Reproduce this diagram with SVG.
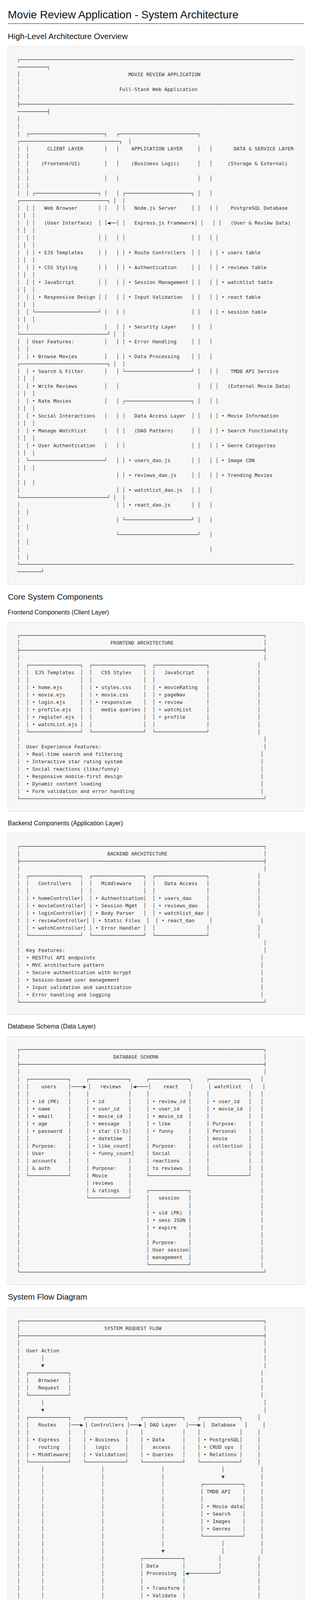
<svg xmlns="http://www.w3.org/2000/svg" width="800" height="5452" viewBox="0 0 800 5452" xml:space="preserve">
<style>
.h1{font-family:"Liberation Sans",Arial,sans-serif;font-size:28px;fill:#111}
.h2{font-family:"Liberation Sans",Arial,sans-serif;font-size:20.8px;fill:#111}
.h3{font-family:"Liberation Sans",Arial,sans-serif;font-size:16px;fill:#111}
.ft{font-family:"Liberation Sans",Arial,sans-serif;font-size:14px;fill:#222}
.panel{fill:#f7f7f7;stroke:#d8d8d8;stroke-width:1}
.m text{font-family:"DejaVu Sans Mono","Liberation Mono",monospace;font-size:12.8px;fill:#333;white-space:pre}
</style>
<rect x="0" y="0" width="800" height="5452" fill="#ffffff"/>
<g id="header">
<text class="h1" x="20" y="46.7">Movie Review Application - System Architecture</text>
<line x1="20" y1="60.5" x2="780" y2="60.5" stroke="#222" stroke-width="1"/>
<text class="h2" x="20" y="100">High-Level Architecture Overview</text>
</g>
<g id="overview" class="m">
<rect class="panel" x="20" y="119.3" width="760" height="1376.7" rx="3"/>
<text x="44" y="156.6" textLength="709.04" lengthAdjust="spacingAndGlyphs">┌───────────────────────────────────────────────────────────────────────────────────────────</text>
<text x="44" y="175.6" textLength="84.78" lengthAdjust="spacingAndGlyphs">──────────┐</text>
<text x="44" y="194.6">│<tspan x="329.16">MOVIE REVIEW APPLICATION</tspan></text>
<text x="44" y="213.6">│</text>
<text x="44" y="232.6">│<tspan x="306.04">Full-Stack Web Application</tspan></text>
<text x="44" y="251.6">│</text>
<text x="44" y="270.6" textLength="709.04" lengthAdjust="spacingAndGlyphs">├───────────────────────────────────────────────────────────────────────────────────────────</text>
<text x="44" y="289.6" textLength="84.78" lengthAdjust="spacingAndGlyphs">──────────┤</text>
<text x="44" y="308.6">│</text>
<text x="44" y="327.6">│</text>
<text x="44" y="346.6" textLength="470.13" lengthAdjust="spacingAndGlyphs">│  ┌─────────────────────────┐   ┌──────────────────────────┐</text>
<text x="44" y="365.6" textLength="292.87" lengthAdjust="spacingAndGlyphs">┌─────────────────────────────────┐  │</text>
<text x="44" y="384.6">│  │<tspan x="121.07">CLIENT LAYER</tspan><tspan x="267.5">│   │</tspan><tspan x="336.87">APPLICATION LAYER</tspan><tspan x="506.42">│   │</tspan><tspan x="598.9">DATA &amp; SERVICE LAYER</tspan></text>
<text x="44" y="403.6">│  │</text>
<text x="44" y="422.6">│  │<tspan x="105.66">(Frontend/UI)</tspan><tspan x="267.5">│   │</tspan><tspan x="336.87">(Business Logic)</tspan><tspan x="506.42">│   │</tspan><tspan x="583.49">(Storage &amp; External)</tspan></text>
<text x="44" y="441.6">│  │</text>
<text x="44" y="460.6">│  │<tspan x="267.5">│   │</tspan><tspan x="506.42">│   │</tspan></text>
<text x="44" y="479.6">│  │</text>
<text x="44" y="498.6" textLength="500.96" lengthAdjust="spacingAndGlyphs">│  │ ┌─────────────────────┐ │   │ ┌──────────────────────┐ │   │</text>
<text x="44" y="517.6" textLength="277.45" lengthAdjust="spacingAndGlyphs">┌─────────────────────────────┐ │  │</text>
<text x="44" y="536.6">│  │ │<tspan x="113.36">Web Browser</tspan><tspan x="252.09">│ │   │ │</tspan><tspan x="344.57">Node.js Server</tspan><tspan x="491.01">│ │   │ │</tspan><tspan x="591.2">PostgreSQL Database</tspan></text>
<text x="44" y="555.6">│ │  │</text>
<text x="44" y="574.6">│  │ │<tspan x="113.36">(User Interface)</tspan><tspan x="252.09">│ │</tspan><tspan x="275.21">◀</tspan><tspan x="282.92">──</tspan><tspan x="298.33">│ │</tspan><tspan x="344.57">Express.js Framework</tspan><tspan x="498.71">│ │   │ │</tspan><tspan x="591.2">(User &amp; Review Data)</tspan></text>
<text x="44" y="593.6">│ │  │</text>
<text x="44" y="612.6">│  │ │<tspan x="252.09">│ │   │ │</tspan><tspan x="491.01">│ │   │ │</tspan></text>
<text x="44" y="631.6">│ │  │</text>
<text x="44" y="650.6">│  │ │ • EJS Templates<tspan x="252.09">│ │   │ │ • Route Controllers</tspan><tspan x="491.01">│ │   │ │ • users table</tspan></text>
<text x="44" y="669.6">│ │  │</text>
<text x="44" y="688.6">│  │ │ • CSS Styling<tspan x="252.09">│ │   │ │ • Authentication</tspan><tspan x="491.01">│ │   │ │ • reviews table</tspan></text>
<text x="44" y="707.6">│ │  │</text>
<text x="44" y="726.6">│  │ │ • JavaScript<tspan x="252.09">│ │   │ │ • Session Management</tspan><tspan x="491.01">│ │   │ │ • watchlist table</tspan></text>
<text x="44" y="745.6">│ │  │</text>
<text x="44" y="764.6">│  │ │ • Responsive Design<tspan x="252.09">│ │   │ │ • Input Validation</tspan><tspan x="491.01">│ │   │ │ • react table</tspan></text>
<text x="44" y="783.6">│ │  │</text>
<text x="44" y="802.6" textLength="277.45" lengthAdjust="spacingAndGlyphs">│  │ └─────────────────────┘ │   │ │</text>
<text x="491.01" y="802.6">│ │   │ │ • session table</text>
<text x="44" y="821.6">│ │  │</text>
<text x="44" y="840.6">│  │<tspan x="267.5">│   │ │ • Security Layer</tspan><tspan x="491.01">│ │   │</tspan></text>
<text x="44" y="859.6" textLength="277.45" lengthAdjust="spacingAndGlyphs">└─────────────────────────────┘ │  │</text>
<text x="44" y="878.6">│  │ User Features:<tspan x="267.5">│   │ │ • Error Handling</tspan><tspan x="491.01">│ │   │</tspan></text>
<text x="44" y="897.6">│  │</text>
<text x="44" y="916.6">│  │ • Browse Movies<tspan x="267.5">│   │ │ • Data Processing</tspan><tspan x="491.01">│ │   │</tspan></text>
<text x="44" y="935.6" textLength="277.45" lengthAdjust="spacingAndGlyphs">┌─────────────────────────────┐ │  │</text>
<text x="44" y="954.6">│  │ • Search &amp; Filter<tspan x="591.2">TMDB API Service</tspan></text>
<text x="267.5" y="954.6" textLength="292.87" lengthAdjust="spacingAndGlyphs">│   │ └──────────────────────┘ │   │ │</text>
<text x="44" y="973.6">│ │  │</text>
<text x="44" y="992.6">│  │ • Write Reviews<tspan x="267.5">│   │</tspan><tspan x="506.42">│   │ │</tspan><tspan x="583.49">(External Movie Data)</tspan></text>
<text x="44" y="1011.6">│ │  │</text>
<text x="44" y="1030.6">│  │ • Rate Movies</text>
<text x="267.5" y="1030.6" textLength="292.87" lengthAdjust="spacingAndGlyphs">│   │ ┌──────────────────────┐ │   │ │</text>
<text x="44" y="1049.6">│ │  │</text>
<text x="44" y="1068.6">│  │ • Social Interactions<tspan x="267.5">│   │ │</tspan><tspan x="344.57">Data Access Layer</tspan><tspan x="491.01">│ │   │ │ • Movie Information</tspan></text>
<text x="44" y="1087.6">│ │  │</text>
<text x="44" y="1106.6">│  │ • Manage Watchlist<tspan x="267.5">│   │ │</tspan><tspan x="344.57">(DAO Pattern)</tspan><tspan x="491.01">│ │   │ │ • Search Functionality</tspan></text>
<text x="44" y="1125.6">│ │  │</text>
<text x="44" y="1144.6">│  │ • User Authentication<tspan x="267.5">│   │ │</tspan><tspan x="491.01">│ │   │ │ • Genre Categories</tspan></text>
<text x="44" y="1163.6">│ │  │</text>
<text x="44" y="1182.6" textLength="231.21" lengthAdjust="spacingAndGlyphs">│  └─────────────────────────┘</text>
<text x="298.33" y="1182.6">│ │ • users_dao.js<tspan x="491.01">│ │   │ │ • Image CDN</tspan></text>
<text x="44" y="1201.6">│ │  │</text>
<text x="44" y="1220.6">│<tspan x="298.33">│ │ • reviews_dao.js</tspan><tspan x="491.01">│ │   │ │ • Trending Movies</tspan></text>
<text x="44" y="1239.6">│ │  │</text>
<text x="44" y="1258.6">│<tspan x="298.33">│ │ • watchlist_dao.js</tspan><tspan x="491.01">│ │   │</tspan></text>
<text x="44" y="1277.6" textLength="277.45" lengthAdjust="spacingAndGlyphs">└─────────────────────────────┘ │  │</text>
<text x="44" y="1296.6">│<tspan x="298.33">│ │ • react_dao.js</tspan><tspan x="491.01">│ │   │</tspan></text>
<text x="44" y="1315.6">│  │</text>
<text x="44" y="1334.6">│</text>
<text x="298.33" y="1334.6" textLength="246.62" lengthAdjust="spacingAndGlyphs">│ └──────────────────────┘ │   │</text>
<text x="44" y="1353.6">│  │</text>
<text x="44" y="1372.6">│</text>
<text x="298.33" y="1372.6" textLength="246.62" lengthAdjust="spacingAndGlyphs">└──────────────────────────┘   │</text>
<text x="44" y="1391.6">│  │</text>
<text x="44" y="1410.6">│<tspan x="537.25">│</tspan></text>
<text x="44" y="1429.6">│  │</text>
<text x="44" y="1448.6" textLength="709.04" lengthAdjust="spacingAndGlyphs">└───────────────────────────────────────────────────────────────────────────────────────────</text>
<text x="44" y="1467.6" textLength="69.36" lengthAdjust="spacingAndGlyphs">────────┘</text>
</g>
<g id="core-headings">
<text class="h2" x="20" y="1535">Core System Components</text>
<text class="h3" x="20" y="1573">Frontend Components (Client Layer)</text>
</g>
<g id="frontend" class="m">
<rect class="panel" x="20" y="1593.3" width="760" height="484" rx="3"/>
<text x="44" y="1630.6" textLength="639.68" lengthAdjust="spacingAndGlyphs">┌─────────────────────────────────────────────────────────────────────────────────┐</text>
<text x="44" y="1649.6">│<tspan x="282.92">FRONTEND ARCHITECTURE</tspan><tspan x="675.97">│</tspan></text>
<text x="44" y="1668.6" textLength="639.68" lengthAdjust="spacingAndGlyphs">├─────────────────────────────────────────────────────────────────────────────────┤</text>
<text x="44" y="1687.6">│<tspan x="675.97">│</tspan></text>
<text x="44" y="1706.6" textLength="493.25" lengthAdjust="spacingAndGlyphs">│  ┌─────────────────┐  ┌─────────────────┐  ┌─────────────────┐</text>
<text x="660.56" y="1706.6">│</text>
<text x="44" y="1725.6">│  │<tspan x="90.24">EJS Templates</tspan><tspan x="205.85">│  │</tspan><tspan x="259.8">CSS Styles</tspan><tspan x="367.69">│  │</tspan><tspan x="421.64">JavaScript</tspan><tspan x="529.54">│</tspan><tspan x="660.56">│</tspan></text>
<text x="44" y="1744.6">│  │<tspan x="205.85">│  │</tspan><tspan x="367.69">│  │</tspan><tspan x="529.54">│</tspan><tspan x="660.56">│</tspan></text>
<text x="44" y="1763.6">│  │ • home.ejs<tspan x="205.85">│  │ • styles.css</tspan><tspan x="367.69">│  │ • movieRating</tspan><tspan x="529.54">│</tspan><tspan x="660.56">│</tspan></text>
<text x="44" y="1782.6">│  │ • movie.ejs<tspan x="205.85">│  │ • movie.css</tspan><tspan x="367.69">│  │ • pageNav</tspan><tspan x="529.54">│</tspan><tspan x="660.56">│</tspan></text>
<text x="44" y="1801.6">│  │ • login.ejs<tspan x="205.85">│  │ • responsive</tspan><tspan x="367.69">│  │ • review</tspan><tspan x="529.54">│</tspan><tspan x="660.56">│</tspan></text>
<text x="44" y="1820.6">│  │ • profile.ejs<tspan x="205.85">│  │</tspan><tspan x="259.8">media queries</tspan><tspan x="367.69">│  │ • watchList</tspan><tspan x="529.54">│</tspan><tspan x="660.56">│</tspan></text>
<text x="44" y="1839.6">│  │ • register.ejs<tspan x="205.85">│  │</tspan><tspan x="367.69">│  │ • profile</tspan><tspan x="529.54">│</tspan><tspan x="660.56">│</tspan></text>
<text x="44" y="1858.6">│  │ • watchList.ejs<tspan x="205.85">│  │</tspan><tspan x="367.69">│  │</tspan><tspan x="529.54">│</tspan><tspan x="660.56">│</tspan></text>
<text x="44" y="1877.6" textLength="493.25" lengthAdjust="spacingAndGlyphs">│  └─────────────────┘  └─────────────────┘  └─────────────────┘</text>
<text x="660.56" y="1877.6">│</text>
<text x="44" y="1896.6">│<tspan x="675.97">│</tspan></text>
<text x="44" y="1915.6">│  User Experience Features:<tspan x="675.97">│</tspan></text>
<text x="44" y="1934.6">│  • Real-time search and filtering<tspan x="668.27">│</tspan></text>
<text x="44" y="1953.6">│  • Interactive star rating system<tspan x="668.27">│</tspan></text>
<text x="44" y="1972.6">│  • Social reactions (like/funny)<tspan x="668.27">│</tspan></text>
<text x="44" y="1991.6">│  • Responsive mobile-first design<tspan x="668.27">│</tspan></text>
<text x="44" y="2010.6">│  • Dynamic content loading<tspan x="668.27">│</tspan></text>
<text x="44" y="2029.6">│  • Form validation and error handling<tspan x="668.27">│</tspan></text>
<text x="44" y="2048.6" textLength="639.68" lengthAdjust="spacingAndGlyphs">└─────────────────────────────────────────────────────────────────────────────────┘</text>
</g>
<text class="h3" x="20" y="2113">Backend Components (Application Layer)</text>
<g id="backend" class="m">
<rect class="panel" x="20" y="2132.7" width="760" height="464.6" rx="3"/>
<text x="44" y="2170.6" textLength="639.68" lengthAdjust="spacingAndGlyphs">┌─────────────────────────────────────────────────────────────────────────────────┐</text>
<text x="44" y="2189.6">│<tspan x="275.21">BACKEND ARCHITECTURE</tspan><tspan x="675.97">│</tspan></text>
<text x="44" y="2208.6" textLength="639.68" lengthAdjust="spacingAndGlyphs">├─────────────────────────────────────────────────────────────────────────────────┤</text>
<text x="44" y="2227.6">│<tspan x="675.97">│</tspan></text>
<text x="44" y="2246.6" textLength="493.25" lengthAdjust="spacingAndGlyphs">│  ┌─────────────────┐  ┌─────────────────┐  ┌─────────────────┐</text>
<text x="660.56" y="2246.6">│</text>
<text x="44" y="2265.6">│  │<tspan x="97.95">Controllers</tspan><tspan x="205.85">│  │</tspan><tspan x="259.8">Middleware</tspan><tspan x="367.69">│  │</tspan><tspan x="421.64">Data Access</tspan><tspan x="529.54">│</tspan><tspan x="660.56">│</tspan></text>
<text x="44" y="2284.6">│  │<tspan x="205.85">│  │</tspan><tspan x="367.69">│  │</tspan><tspan x="529.54">│</tspan><tspan x="660.56">│</tspan></text>
<text x="44" y="2303.6">│  │ • homeController│  │ • Authentication│  │ • users_dao<tspan x="529.54">│</tspan><tspan x="660.56">│</tspan></text>
<text x="44" y="2322.6">│  │ • movieController│ │ • Session Mgmt<tspan x="367.69">│  │ • reviews_dao</tspan><tspan x="529.54">│</tspan><tspan x="660.56">│</tspan></text>
<text x="44" y="2341.6">│  │ • loginController│ │ • Body Parser<tspan x="367.69">│  │ • watchlist_dao</tspan><tspan x="529.54">│</tspan><tspan x="660.56">│</tspan></text>
<text x="44" y="2360.6">│  │ • reviewController│ │ • Static Files<tspan x="375.4">│  │ • react_dao</tspan><tspan x="537.25">│</tspan><tspan x="668.27">│</tspan></text>
<text x="44" y="2379.6">│  │ • watchController│ │ • Error Handler<tspan x="367.69">│  │</tspan><tspan x="529.54">│</tspan><tspan x="660.56">│</tspan></text>
<text x="44" y="2398.6" textLength="493.25" lengthAdjust="spacingAndGlyphs">│  └─────────────────┘  └─────────────────┘  └─────────────────┘</text>
<text x="660.56" y="2398.6">│</text>
<text x="44" y="2417.6">│<tspan x="675.97">│</tspan></text>
<text x="44" y="2436.6">│  Key Features:<tspan x="675.97">│</tspan></text>
<text x="44" y="2455.6">│  • RESTful API endpoints<tspan x="668.27">│</tspan></text>
<text x="44" y="2474.6">│  • MVC architecture pattern<tspan x="668.27">│</tspan></text>
<text x="44" y="2493.6">│  • Secure authentication with bcrypt<tspan x="668.27">│</tspan></text>
<text x="44" y="2512.6">│  • Session-based user management<tspan x="668.27">│</tspan></text>
<text x="44" y="2531.6">│  • Input validation and sanitization<tspan x="668.27">│</tspan></text>
<text x="44" y="2550.6">│  • Error handling and logging<tspan x="668.27">│</tspan></text>
<text x="44" y="2569.6" textLength="639.68" lengthAdjust="spacingAndGlyphs">└─────────────────────────────────────────────────────────────────────────────────┘</text>
</g>
<text class="h3" x="20" y="2633">Database Schema (Data Layer)</text>
<g id="database" class="m">
<rect class="panel" x="20" y="2653.3" width="760" height="635.7" rx="3"/>
<text x="44" y="2690.6" textLength="639.68" lengthAdjust="spacingAndGlyphs">┌─────────────────────────────────────────────────────────────────────────────────┐</text>
<text x="44" y="2709.6">│<tspan x="290.62">DATABASE SCHEMA</tspan><tspan x="675.97">│</tspan></text>
<text x="44" y="2728.6" textLength="639.68" lengthAdjust="spacingAndGlyphs">├─────────────────────────────────────────────────────────────────────────────────┤</text>
<text x="44" y="2747.6">│<tspan x="675.97">│</tspan></text>
<text x="44" y="2766.6" textLength="138.73" lengthAdjust="spacingAndGlyphs">│  ┌─────────────┐</text>
<text x="221.26" y="2766.6" textLength="115.61" lengthAdjust="spacingAndGlyphs">┌─────────────┐</text>
<text x="375.4" y="2766.6" textLength="115.61" lengthAdjust="spacingAndGlyphs">┌─────────────┐</text>
<text x="529.54" y="2766.6" textLength="115.61" lengthAdjust="spacingAndGlyphs">┌─────────────┐</text>
<text x="668.27" y="2766.6">│</text>
<text x="44" y="2785.6">│  │    users    │────<tspan x="213.55">▶</tspan><tspan x="225.9">│   reviews   │</tspan><tspan x="341.5">◀</tspan><tspan x="349.2">────│    react    │</tspan><tspan x="534.1">│ watchlist   │</tspan><tspan x="672.9">│</tspan></text>
<text x="44" y="2804.6">│  │<tspan x="175.02">│     │</tspan><tspan x="329.16">│     │</tspan><tspan x="483.3">│     │</tspan><tspan x="637.44">│   │</tspan></text>
<text x="44" y="2823.6">│  │<tspan x="82.54">• id (PK)</tspan><tspan x="175.02">│     │</tspan><tspan x="236.68">• id</tspan><tspan x="329.16">│     │</tspan><tspan x="390.82">• review_id</tspan><tspan x="483.3">│     │</tspan><tspan x="544.96">• user_id</tspan><tspan x="637.44">│   │</tspan></text>
<text x="44" y="2842.6">│  │<tspan x="82.54">• name</tspan><tspan x="175.02">│     │</tspan><tspan x="236.68">• user_id</tspan><tspan x="329.16">│     │</tspan><tspan x="390.82">• user_id</tspan><tspan x="483.3">│     │</tspan><tspan x="544.96">• movie_id</tspan><tspan x="637.44">│   │</tspan></text>
<text x="44" y="2861.6">│  │<tspan x="82.54">• email</tspan><tspan x="175.02">│     │</tspan><tspan x="236.68">• movie_id</tspan><tspan x="329.16">│     │</tspan><tspan x="390.82">• movie_id</tspan><tspan x="483.3">│     │</tspan><tspan x="637.44">│   │</tspan></text>
<text x="44" y="2880.6">│  │<tspan x="82.54">• age</tspan><tspan x="175.02">│     │</tspan><tspan x="236.68">• message</tspan><tspan x="329.16">│     │</tspan><tspan x="390.82">• like</tspan><tspan x="483.3">│     │</tspan><tspan x="544.96">Purpose:</tspan><tspan x="637.44">│   │</tspan></text>
<text x="44" y="2899.6">│  │<tspan x="82.54">• password</tspan><tspan x="175.02">│     │</tspan><tspan x="236.68">• star (1-5)</tspan><tspan x="329.16">│     │</tspan><tspan x="390.82">• funny</tspan><tspan x="483.3">│     │</tspan><tspan x="544.96">Personal</tspan><tspan x="637.44">│   │</tspan></text>
<text x="44" y="2918.6">│  │<tspan x="175.02">│     │</tspan><tspan x="236.68">• datetime</tspan><tspan x="329.16">│     │</tspan><tspan x="483.3">│     │</tspan><tspan x="544.96">movie</tspan><tspan x="637.44">│   │</tspan></text>
<text x="44" y="2937.6">│  │<tspan x="82.54">Purpose:</tspan><tspan x="175.02">│     │</tspan><tspan x="236.68">• like_count</tspan><tspan x="329.16">│     │</tspan><tspan x="390.82">Purpose:</tspan><tspan x="483.3">│     │</tspan><tspan x="544.96">collection</tspan><tspan x="637.44">│   │</tspan></text>
<text x="44" y="2956.6">│  │<tspan x="82.54">User</tspan><tspan x="175.02">│     │</tspan><tspan x="236.68">• funny_count</tspan><tspan x="336.87">│</tspan><tspan x="375.4">│</tspan><tspan x="390.82">Social</tspan><tspan x="483.3">│     │</tspan><tspan x="637.44">│   │</tspan></text>
<text x="44" y="2975.6">│  │<tspan x="82.54">accounts</tspan><tspan x="175.02">│     │</tspan><tspan x="329.16">│     │</tspan><tspan x="390.82">reactions</tspan><tspan x="483.3">│     │</tspan><tspan x="637.44">│   │</tspan></text>
<text x="44" y="2994.6">│  │<tspan x="82.54">&amp; auth</tspan><tspan x="175.02">│     │</tspan><tspan x="236.68">Purpose:</tspan><tspan x="329.16">│     │</tspan><tspan x="390.82">to reviews</tspan><tspan x="483.3">│     │</tspan><tspan x="637.44">│   │</tspan></text>
<text x="44" y="3013.6" textLength="184.97" lengthAdjust="spacingAndGlyphs">│  └─────────────┘     │</text>
<text x="236.68" y="3013.6">Movie</text>
<text x="329.16" y="3013.6" textLength="346.82" lengthAdjust="spacingAndGlyphs">│     └─────────────┘     └─────────────┘   │</text>
<text x="44" y="3032.6">│<tspan x="221.26">│</tspan><tspan x="236.68">reviews</tspan><tspan x="329.16">│</tspan><tspan x="668.27">│</tspan></text>
<text x="44" y="3051.6">│<tspan x="221.26">│</tspan><tspan x="236.68">&amp; ratings</tspan><tspan x="668.27">│</tspan></text>
<text x="329.16" y="3051.6" textLength="161.85" lengthAdjust="spacingAndGlyphs">│     ┌─────────────┐</text>
<text x="44" y="3070.6">│<tspan x="406.23">session</tspan><tspan x="483.3">│</tspan><tspan x="668.27">│</tspan></text>
<text x="221.26" y="3070.6" textLength="161.85" lengthAdjust="spacingAndGlyphs">└─────────────┘     │</text>
<text x="44" y="3089.6">│<tspan x="375.4">│</tspan><tspan x="483.3">│</tspan><tspan x="668.27">│</tspan></text>
<text x="44" y="3108.6">│<tspan x="375.4">│ • sid (PK)</tspan><tspan x="483.3">│</tspan><tspan x="668.27">│</tspan></text>
<text x="44" y="3127.6">│<tspan x="375.4">│ • sess JSON</tspan><tspan x="483.3">│</tspan><tspan x="668.27">│</tspan></text>
<text x="44" y="3146.6">│<tspan x="375.4">│ • expire</tspan><tspan x="483.3">│</tspan><tspan x="668.27">│</tspan></text>
<text x="44" y="3165.6">│<tspan x="375.4">│</tspan><tspan x="483.3">│</tspan><tspan x="668.27">│</tspan></text>
<text x="44" y="3184.6">│<tspan x="375.4">│ Purpose:</tspan><tspan x="483.3">│</tspan><tspan x="668.27">│</tspan></text>
<text x="44" y="3203.6">│<tspan x="375.4">│ User session│</tspan><tspan x="668.27">│</tspan></text>
<text x="44" y="3222.6">│<tspan x="375.4">│ management</tspan><tspan x="483.3">│</tspan><tspan x="668.27">│</tspan></text>
<text x="44" y="3241.6">│<tspan x="668.27">│</tspan></text>
<text x="375.4" y="3241.6" textLength="115.61" lengthAdjust="spacingAndGlyphs">└─────────────┘</text>
<text x="44" y="3260.6" textLength="639.68" lengthAdjust="spacingAndGlyphs">└─────────────────────────────────────────────────────────────────────────────────┘</text>
</g>
<text class="h2" x="20" y="3327">System Flow Diagram</text>
<g id="flow" class="m">
<rect class="panel" x="20" y="3347.7" width="760" height="1434" rx="3"/>
<text x="44" y="3385.6" textLength="639.68" lengthAdjust="spacingAndGlyphs">┌─────────────────────────────────────────────────────────────────────────────────┐</text>
<text x="44" y="3404.6">│<tspan x="267.5">SYSTEM REQUEST FLOW</tspan><tspan x="675.97">│</tspan></text>
<text x="44" y="3423.6" textLength="639.68" lengthAdjust="spacingAndGlyphs">├─────────────────────────────────────────────────────────────────────────────────┤</text>
<text x="44" y="3442.6">│<tspan x="675.97">│</tspan></text>
<text x="44" y="3461.6">│  User Action<tspan x="675.97">│</tspan></text>
<text x="44" y="3480.6">│<tspan x="105.66">│</tspan><tspan x="675.97">│</tspan></text>
<text x="44" y="3499.6">│<tspan x="105.66">▼</tspan><tspan x="675.97">│</tspan></text>
<text x="44" y="3518.6" textLength="138.73" lengthAdjust="spacingAndGlyphs">│  ┌─────────────┐</text>
<text x="668.27" y="3518.6">│</text>
<text x="44" y="3537.6">│  │<tspan x="97.95">Browser</tspan><tspan x="175.02">│</tspan><tspan x="668.27">│</tspan></text>
<text x="44" y="3556.6">│  │<tspan x="97.95">Request</tspan><tspan x="175.02">│</tspan><tspan x="668.27">│</tspan></text>
<text x="44" y="3575.6" textLength="138.73" lengthAdjust="spacingAndGlyphs">│  └─────────────┘</text>
<text x="668.27" y="3575.6">│</text>
<text x="44" y="3594.6">│<tspan x="105.66">│</tspan><tspan x="675.97">│</tspan></text>
<text x="44" y="3613.6">│<tspan x="105.66">▼</tspan><tspan x="675.97">│</tspan></text>
<text x="44" y="3632.6" textLength="578.03" lengthAdjust="spacingAndGlyphs">│  ┌─────────────┐    ┌─────────────┐    ┌─────────────┐    ┌─────────────┐</text>
<text x="660.56" y="3632.6">│</text>
<text x="44" y="3651.6">│  │   Routes    │───<tspan x="205.85">▶</tspan><tspan x="217.8">│ Controllers │───</tspan><tspan x="356.5">▶</tspan><tspan x="368.5">│ DAO Layer   │───</tspan><tspan x="507.2">▶</tspan><tspan x="519.5">│  Database   │     │</tspan></text>
<text x="44" y="3670.6">│  │<tspan x="175.02">│    │</tspan><tspan x="321.45">│    │</tspan><tspan x="467.89">│    │</tspan><tspan x="614.32">│</tspan><tspan x="660.56">│</tspan></text>
<text x="44" y="3689.6">│  │ • Express<tspan x="175.02">│    │ • Business</tspan><tspan x="321.45">│    │ • Data</tspan><tspan x="467.89">│    │ • PostgreSQL</tspan><tspan x="614.32">│</tspan><tspan x="660.56">│</tspan></text>
<text x="44" y="3708.6">│  │<tspan x="97.95">routing</tspan><tspan x="175.02">│    │</tspan><tspan x="244.38">logic</tspan><tspan x="321.45">│    │</tspan><tspan x="390.82">access</tspan><tspan x="467.89">│    │ • CRUD ops</tspan><tspan x="614.32">│</tspan><tspan x="660.56">│</tspan></text>
<text x="44" y="3727.6">│  │ • Middleware│    │ • Validation│    │ • Queries<tspan x="467.89">│    │ • Relations</tspan><tspan x="614.32">│</tspan><tspan x="660.56">│</tspan></text>
<text x="44" y="3746.6" textLength="578.03" lengthAdjust="spacingAndGlyphs">│  └─────────────┘    └─────────────┘    └─────────────┘    └─────────────┘</text>
<text x="660.56" y="3746.6">│</text>
<text x="44" y="3765.6">│<tspan x="105.66">│</tspan><tspan x="259.8">│</tspan><tspan x="413.94">│</tspan><tspan x="568.08">│</tspan><tspan x="668.27">│</tspan></text>
<text x="44" y="3784.6">│<tspan x="105.66">│</tspan><tspan x="259.8">│</tspan><tspan x="413.94">│</tspan><tspan x="568.08">▼</tspan><tspan x="668.27">│</tspan></text>
<text x="44" y="3803.6">│<tspan x="105.66">│</tspan><tspan x="259.8">│</tspan><tspan x="413.94">│</tspan><tspan x="668.27">│</tspan></text>
<text x="514.13" y="3803.6" textLength="115.61" lengthAdjust="spacingAndGlyphs">┌─────────────┐</text>
<text x="44" y="3822.6">│<tspan x="105.66">│</tspan><tspan x="259.8">│</tspan><tspan x="413.94">│</tspan><tspan x="514.13">│</tspan><tspan x="529.54">TMDB API</tspan><tspan x="622.03">│</tspan><tspan x="668.27">│</tspan></text>
<text x="44" y="3841.6">│<tspan x="105.66">│</tspan><tspan x="259.8">│</tspan><tspan x="413.94">│</tspan><tspan x="514.13">│</tspan><tspan x="622.03">│</tspan><tspan x="668.27">│</tspan></text>
<text x="44" y="3860.6">│<tspan x="105.66">│</tspan><tspan x="259.8">│</tspan><tspan x="413.94">│</tspan><tspan x="514.13">│ • Movie data│</tspan><tspan x="668.27">│</tspan></text>
<text x="44" y="3879.6">│<tspan x="105.66">│</tspan><tspan x="259.8">│</tspan><tspan x="413.94">│</tspan><tspan x="514.13">│ • Search</tspan><tspan x="622.03">│</tspan><tspan x="668.27">│</tspan></text>
<text x="44" y="3898.6">│<tspan x="105.66">│</tspan><tspan x="259.8">│</tspan><tspan x="413.94">│</tspan><tspan x="514.13">│ • Images</tspan><tspan x="622.03">│</tspan><tspan x="668.27">│</tspan></text>
<text x="44" y="3917.6">│<tspan x="105.66">│</tspan><tspan x="259.8">│</tspan><tspan x="413.94">│</tspan><tspan x="514.13">│ • Genres</tspan><tspan x="622.03">│</tspan><tspan x="668.27">│</tspan></text>
<text x="44" y="3936.6">│<tspan x="105.66">│</tspan><tspan x="259.8">│</tspan><tspan x="413.94">│</tspan><tspan x="668.27">│</tspan></text>
<text x="514.13" y="3936.6" textLength="115.61" lengthAdjust="spacingAndGlyphs">└─────────────┘</text>
<text x="44" y="3955.6">│<tspan x="105.66">│</tspan><tspan x="259.8">│</tspan><tspan x="413.94">│</tspan><tspan x="568.08">│</tspan><tspan x="668.27">│</tspan></text>
<text x="44" y="3974.6">│<tspan x="105.66">│</tspan><tspan x="259.8">│</tspan><tspan x="413.94">▼</tspan><tspan x="568.08">│</tspan><tspan x="668.27">│</tspan></text>
<text x="44" y="3993.6">│<tspan x="105.66">│</tspan><tspan x="259.8">│</tspan><tspan x="560.37">│</tspan><tspan x="660.56">│</tspan></text>
<text x="359.99" y="3993.6" textLength="115.61" lengthAdjust="spacingAndGlyphs">┌─────────────┐</text>
<text x="44" y="4012.6">│<tspan x="105.66">│</tspan><tspan x="259.8">│</tspan><tspan x="359.99">│</tspan><tspan x="375.4">Data</tspan><tspan x="467.89">│</tspan><tspan x="560.37">│</tspan><tspan x="660.56">│</tspan></text>
<text x="44" y="4031.6">│<tspan x="105.66">│</tspan><tspan x="259.8">│</tspan><tspan x="359.99">│</tspan><tspan x="375.4">Processing</tspan><tspan x="467.89">│</tspan><tspan x="475.59">◀</tspan><tspan x="660.56">│</tspan></text>
<text x="483.3" y="4031.6" textLength="84.78" lengthAdjust="spacingAndGlyphs">──────────┘</text>
<text x="44" y="4050.6">│<tspan x="105.66">│</tspan><tspan x="259.8">│</tspan><tspan x="359.99">│</tspan><tspan x="467.89">│</tspan><tspan x="660.56">│</tspan></text>
<text x="44" y="4069.6">│<tspan x="105.66">│</tspan><tspan x="259.8">│</tspan><tspan x="359.99">│ • Transform</tspan><tspan x="467.89">│</tspan><tspan x="660.56">│</tspan></text>
<text x="44" y="4088.6">│<tspan x="105.66">│</tspan><tspan x="259.8">│</tspan><tspan x="359.99">│ • Validate</tspan><tspan x="467.89">│</tspan><tspan x="660.56">│</tspan></text>
<text x="44" y="4107.6">│<tspan x="105.66">│</tspan><tspan x="259.8">│</tspan><tspan x="359.99">│ • Format</tspan><tspan x="467.89">│</tspan><tspan x="660.56">│</tspan></text>
<text x="44" y="4126.6">│<tspan x="105.66">│</tspan><tspan x="259.8">│</tspan><tspan x="660.56">│</tspan></text>
<text x="359.99" y="4126.6" textLength="115.61" lengthAdjust="spacingAndGlyphs">└─────────────┘</text>
<text x="44" y="4145.6">│<tspan x="105.66">│</tspan><tspan x="259.8">│</tspan><tspan x="413.94">│</tspan><tspan x="668.27">│</tspan></text>
<text x="44" y="4164.6">│<tspan x="105.66">│</tspan><tspan x="259.8">▼</tspan><tspan x="413.94">▼</tspan><tspan x="668.27">│</tspan></text>
<text x="44" y="4183.6">│<tspan x="105.66">│</tspan><tspan x="660.56">│</tspan></text>
<text x="205.85" y="4183.6" textLength="262.04" lengthAdjust="spacingAndGlyphs">┌─────────────┐    ┌─────────────┐</text>
<text x="44" y="4202.6">│<tspan x="105.66">│</tspan><tspan x="205.85">│ EJS Template│    │</tspan><tspan x="367.69">JSON/AJAX</tspan><tspan x="460.18">│</tspan><tspan x="660.56">│</tspan></text>
<text x="44" y="4221.6">│<tspan x="105.66">│</tspan><tspan x="205.85">│</tspan><tspan x="221.26">Rendering</tspan><tspan x="313.75">│    │</tspan><tspan x="367.69">Response</tspan><tspan x="460.18">│</tspan><tspan x="660.56">│</tspan></text>
<text x="44" y="4240.6">│<tspan x="105.66">│</tspan><tspan x="205.85">│</tspan><tspan x="313.75">│    │</tspan><tspan x="460.18">│</tspan><tspan x="660.56">│</tspan></text>
<text x="44" y="4259.6">│<tspan x="105.66">│</tspan><tspan x="205.85">│ • HTML gen</tspan><tspan x="313.75">│    │ • API data</tspan><tspan x="460.18">│</tspan><tspan x="660.56">│</tspan></text>
<text x="44" y="4278.6">│<tspan x="105.66">│</tspan><tspan x="205.85">│ • Dynamic</tspan><tspan x="313.75">│    │ • Real-time</tspan><tspan x="460.18">│</tspan><tspan x="660.56">│</tspan></text>
<text x="44" y="4297.6">│<tspan x="105.66">│</tspan><tspan x="205.85">│</tspan><tspan x="236.68">content</tspan><tspan x="313.75">│    │</tspan><tspan x="383.11">updates</tspan><tspan x="460.18">│</tspan><tspan x="660.56">│</tspan></text>
<text x="44" y="4316.6">│<tspan x="105.66">│</tspan><tspan x="660.56">│</tspan></text>
<text x="205.85" y="4316.6" textLength="262.04" lengthAdjust="spacingAndGlyphs">└─────────────┘    └─────────────┘</text>
<text x="44" y="4335.6">│<tspan x="105.66">│</tspan><tspan x="259.8">│</tspan><tspan x="413.94">│</tspan><tspan x="668.27">│</tspan></text>
<text x="44" y="4354.6">│<tspan x="105.66">▼</tspan><tspan x="259.8">▼</tspan><tspan x="413.94">▼</tspan><tspan x="668.27">│</tspan></text>
<text x="44" y="4373.6" textLength="447.01" lengthAdjust="spacingAndGlyphs">│  ┌─────────────────────────────────────────────────────┐</text>
<text x="660.56" y="4373.6">│</text>
<text x="44" y="4392.6">│  │<tspan x="190.43">HTTP Response</tspan><tspan x="483.3">│</tspan><tspan x="660.56">│</tspan></text>
<text x="44" y="4411.6">│  │<tspan x="483.3">│</tspan><tspan x="660.56">│</tspan></text>
<text x="44" y="4430.6">│  │ • Rendered HTML page (for page requests)<tspan x="475.59">│</tspan><tspan x="652.85">│</tspan></text>
<text x="44" y="4449.6">│  │ • JSON data (for AJAX requests)<tspan x="475.59">│</tspan><tspan x="652.85">│</tspan></text>
<text x="44" y="4468.6">│  │ • Error messages (if applicable)<tspan x="475.59">│</tspan><tspan x="652.85">│</tspan></text>
<text x="44" y="4487.6">│  │ • Redirect responses (after actions)<tspan x="475.59">│</tspan><tspan x="652.85">│</tspan></text>
<text x="44" y="4506.6" textLength="447.01" lengthAdjust="spacingAndGlyphs">│  └─────────────────────────────────────────────────────┘</text>
<text x="660.56" y="4506.6">│</text>
<text x="44" y="4525.6">│<tspan x="105.66">│</tspan><tspan x="675.97">│</tspan></text>
<text x="44" y="4544.6">│<tspan x="105.66">▼</tspan><tspan x="675.97">│</tspan></text>
<text x="44" y="4563.6" textLength="138.73" lengthAdjust="spacingAndGlyphs">│  ┌─────────────┐</text>
<text x="668.27" y="4563.6">│</text>
<text x="44" y="4582.6">│  │<tspan x="97.95">Browser</tspan><tspan x="175.02">│</tspan><tspan x="668.27">│</tspan></text>
<text x="44" y="4601.6">│  │<tspan x="97.95">Display</tspan><tspan x="175.02">│</tspan><tspan x="668.27">│</tspan></text>
<text x="44" y="4620.6">│  │<tspan x="175.02">│</tspan><tspan x="668.27">│</tspan></text>
<text x="44" y="4639.6">│  │ • Render UI<tspan x="175.02">│</tspan><tspan x="668.27">│</tspan></text>
<text x="44" y="4658.6">│  │ • Update DOM│<tspan x="668.27">│</tspan></text>
<text x="44" y="4677.6">│  │ • User<tspan x="175.02">│</tspan><tspan x="668.27">│</tspan></text>
<text x="44" y="4696.6">│  │<tspan x="97.95">feedback</tspan><tspan x="175.02">│</tspan><tspan x="668.27">│</tspan></text>
<text x="44" y="4715.6" textLength="138.73" lengthAdjust="spacingAndGlyphs">│  └─────────────┘</text>
<text x="668.27" y="4715.6">│</text>
<text x="44" y="4734.6">│<tspan x="675.97">│</tspan></text>
<text x="44" y="4753.6" textLength="639.68" lengthAdjust="spacingAndGlyphs">└─────────────────────────────────────────────────────────────────────────────────┘</text>
</g>
<text class="h2" x="20" y="4820">Technology Stack Summary</text>
<g id="tech-stack" class="m">
<rect class="panel" x="20" y="4839.3" width="760" height="521.7" rx="3"/>
<text x="44" y="4876.6" textLength="639.68" lengthAdjust="spacingAndGlyphs">┌─────────────────────────────────────────────────────────────────────────────────┐</text>
<text x="44" y="4895.6">│<tspan x="282.92">TECHNOLOGY STACK</tspan><tspan x="675.97">│</tspan></text>
<text x="44" y="4914.6" textLength="639.68" lengthAdjust="spacingAndGlyphs">├─────────────────────────────────────────────────────────────────────────────────┤</text>
<text x="44" y="4933.6">│<tspan x="675.97">│</tspan></text>
<text x="44" y="4952.6">│  Frontend Technologies<tspan x="290.62">Backend Technologies</tspan><tspan x="506.42">Database &amp; External</tspan><tspan x="675.97">│</tspan></text>
<text x="44" y="4971.6" textLength="200.38" lengthAdjust="spacingAndGlyphs">│  ┌─────────────────────┐</text>
<text x="282.92" y="4971.6" textLength="177.26" lengthAdjust="spacingAndGlyphs">┌─────────────────────┐</text>
<text x="498.71" y="4971.6" textLength="184.97" lengthAdjust="spacingAndGlyphs">┌─────────────────────┐│</text>
<text x="44" y="4990.6">│  │ • HTML5 &amp; EJS<tspan x="236.68">│</tspan><tspan x="282.92">│ • Node.js 20+</tspan><tspan x="452.47">│</tspan><tspan x="498.71">│ • PostgreSQL 14+</tspan><tspan x="668.27">││</tspan></text>
<text x="44" y="5009.6">│  │ • CSS3 &amp; Flexbox<tspan x="236.68">│</tspan><tspan x="282.92">│ • Express.js 4.19+</tspan><tspan x="452.47">│</tspan><tspan x="498.71">│ • TMDB API v3</tspan><tspan x="668.27">││</tspan></text>
<text x="44" y="5028.6">│  │ • Vanilla JavaScript│<tspan x="282.92">│ • bcrypt (security)</tspan><tspan x="460.18">│</tspan><tspan x="506.42">│ • Image CDN</tspan><tspan x="675.97">││</tspan></text>
<text x="44" y="5047.6">│  │ • Responsive Design<tspan x="236.68">│</tspan><tspan x="282.92">│ • express-session</tspan><tspan x="460.18">│</tspan><tspan x="506.42">│ • Session store</tspan><tspan x="675.97">││</tspan></text>
<text x="44" y="5066.6">│  │ • AJAX &amp; Fetch API<tspan x="236.68">│</tspan><tspan x="282.92">│ • body-parser</tspan><tspan x="460.18">│</tspan><tspan x="506.42">│</tspan><tspan x="675.97">││</tspan></text>
<text x="44" y="5085.6">│  │<tspan x="236.68">│</tspan><tspan x="282.92">│ • cookie-parser</tspan><tspan x="460.18">│</tspan><tspan x="506.42">│</tspan><tspan x="675.97">││</tspan></text>
<text x="44" y="5104.6" textLength="200.38" lengthAdjust="spacingAndGlyphs">│  └─────────────────────┘</text>
<text x="282.92" y="5104.6">│ • dotenv (config)<tspan x="460.18">│</tspan></text>
<text x="506.42" y="5104.6" textLength="184.97" lengthAdjust="spacingAndGlyphs">└─────────────────────┘│</text>
<text x="44" y="5123.6">│<tspan x="282.92">│ • pg (PostgreSQL)</tspan><tspan x="460.18">│</tspan><tspan x="683.68">│</tspan></text>
<text x="44" y="5142.6">│  Development Tools<tspan x="282.92">│ • axios (HTTP)</tspan><tspan x="460.18">│</tspan><tspan x="506.42">Security Features</tspan><tspan x="683.68">│</tspan></text>
<text x="44" y="5161.6" textLength="200.38" lengthAdjust="spacingAndGlyphs">│  ┌─────────────────────┐</text>
<text x="282.92" y="5161.6" textLength="177.26" lengthAdjust="spacingAndGlyphs">└─────────────────────┘</text>
<text x="498.71" y="5161.6" textLength="184.97" lengthAdjust="spacingAndGlyphs">┌─────────────────────┐│</text>
<text x="44" y="5180.6">│  │ • VS Code<tspan x="236.68">│</tspan><tspan x="506.42">│ • Password hashing</tspan><tspan x="675.97">││</tspan></text>
<text x="44" y="5199.6">│  │ • Git version ctrl<tspan x="236.68">│</tspan><tspan x="282.92">Architecture Patterns</tspan><tspan x="498.71">│ • Session security</tspan><tspan x="668.27">││</tspan></text>
<text x="44" y="5218.6">│  │ • NPM package mgmt<tspan x="236.68">│</tspan><tspan x="498.71">│ • Input validation</tspan><tspan x="668.27">││</tspan></text>
<text x="282.92" y="5218.6" textLength="177.26" lengthAdjust="spacingAndGlyphs">┌─────────────────────┐</text>
<text x="44" y="5237.6">│  │ • Nodemon (dev)<tspan x="236.68">│</tspan><tspan x="282.92">│ • MVC Pattern</tspan><tspan x="452.47">│</tspan><tspan x="498.71">│ • SQL injection</tspan><tspan x="668.27">││</tspan></text>
<text x="44" y="5256.6">│  │ • Browser DevTools<tspan x="236.68">│</tspan><tspan x="282.92">│ • DAO Pattern</tspan><tspan x="452.47">│</tspan><tspan x="498.71">│</tspan><tspan x="529.54">prevention</tspan><tspan x="668.27">││</tspan></text>
<text x="44" y="5275.6" textLength="200.38" lengthAdjust="spacingAndGlyphs">│  └─────────────────────┘</text>
<text x="282.92" y="5275.6">│ • RESTful APIs<tspan x="452.47">│</tspan><tspan x="498.71">│ • Error handling</tspan><tspan x="668.27">││</tspan></text>
<text x="44" y="5294.6">│<tspan x="282.92">│ • Modular design</tspan><tspan x="452.47">│</tspan><tspan x="498.71">│ • HTTPS ready</tspan><tspan x="668.27">││</tspan></text>
<text x="44" y="5313.6">│</text>
<text x="282.92" y="5313.6" textLength="177.26" lengthAdjust="spacingAndGlyphs">└─────────────────────┘</text>
<text x="498.71" y="5313.6" textLength="184.97" lengthAdjust="spacingAndGlyphs">└─────────────────────┘│</text>
<text x="44" y="5332.6" textLength="639.68" lengthAdjust="spacingAndGlyphs">└─────────────────────────────────────────────────────────────────────────────────┘</text>
</g>
<g id="footer">
<rect x="20" y="5377" width="760" height="2.3" fill="#111"/>
<text class="ft" x="20" y="5410.7"><tspan font-weight="bold">Movie Review Application</tspan> - A comprehensive full-stack web platform for movie discovery, reviewing, and social</text>
<text class="ft" x="20" y="5431.7">interaction, built with modern web technologies and best practices for security, performance, and user experience.</text>
</g>
</svg>
